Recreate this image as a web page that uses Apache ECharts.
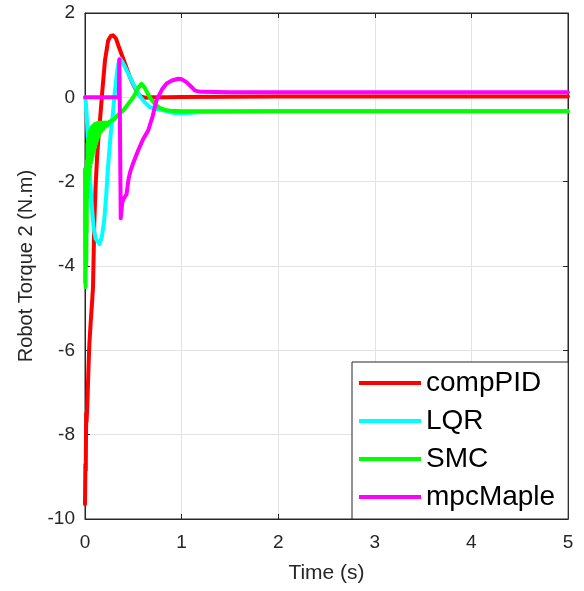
<!DOCTYPE html>
<html>
<head>
<meta charset="utf-8">
<script src="https://cdn.jsdelivr.net/npm/echarts@6/dist/echarts.min.js"></script>
<style>
html,body{margin:0;padding:0;background:#fff;}
#c{width:584px;height:591px;}
</style>
</head>
<body>
<div id="c"></div>
<script>
// ---- data ----
var seriesNames = ['compPID', 'LQR', 'SMC', 'mpcMaple'];
var xTicks = [0, 1, 2, 3, 4, 5];
var yTicks = [-10, -8, -6, -4, -2, 0, 2];

var tPID = [0, 0.004, 0.008, 0.012, 0.016, 0.024, 0.035, 0.045, 0.06, 0.072, 0.083, 0.096, 0.11, 0.125, 0.14, 0.155, 0.18, 0.207, 0.24, 0.265, 0.29, 0.32, 0.35, 0.39, 0.43, 0.465, 0.5, 0.54, 0.57, 0.62, 0.7, 0.85, 1.0, 2.0, 3.0, 4.0, 5.0];
var vPID = [-9.65, -8.7, -8.85, -7.5, -7.7, -7.3, -6.5, -5.85, -5.3, -4.9, -4.5, -3.0, -2.1, -1.42, -0.95, -0.55, 0.17, 0.88, 1.35, 1.45, 1.47, 1.4, 1.2, 0.95, 0.7, 0.48, 0.3, 0.12, 0.03, -0.01, 0.0, 0.0, 0.01, 0.02, 0.02, 0.02, 0.02];

var tLQR = [0, 0.008, 0.018, 0.03, 0.045, 0.06, 0.075, 0.09, 0.11, 0.15, 0.175, 0.2, 0.22, 0.24, 0.265, 0.29, 0.305, 0.32, 0.335, 0.35, 0.362, 0.38, 0.41, 0.44, 0.465, 0.5, 0.54, 0.57, 0.62, 0.67, 0.72, 0.81, 0.9, 0.95, 1.05, 1.2, 1.5, 2.0, 3.0, 4.0, 5.0];
var vLQR = [0, -0.1, -0.45, -1.0, -1.65, -2.2, -2.7, -3.1, -3.35, -3.48, -3.3, -2.9, -2.3, -1.6, -0.9, -0.35, 0.05, 0.35, 0.65, 0.85, 0.92, 0.86, 0.74, 0.6, 0.48, 0.32, 0.14, 0.02, -0.12, -0.23, -0.27, -0.31, -0.36, -0.38, -0.37, -0.35, -0.34, -0.33, -0.33, -0.33, -0.33];

var tSMC = [0, 0.002, 0.004, 0.006, 0.008, 0.010, 0.012, 0.014, 0.016, 0.018, 0.02, 0.023, 0.026, 0.029, 0.032, 0.035, 0.038, 0.041, 0.044, 0.047, 0.05, 0.054, 0.058, 0.062, 0.066, 0.07, 0.074, 0.078, 0.082, 0.086, 0.09, 0.095, 0.1, 0.105, 0.11, 0.115, 0.12, 0.125, 0.13, 0.135, 0.14, 0.145, 0.15, 0.155, 0.16, 0.17, 0.18, 0.19, 0.2, 0.21, 0.22, 0.235, 0.25, 0.265, 0.28, 0.31, 0.35, 0.4, 0.45, 0.5, 0.55, 0.585, 0.62, 0.67, 0.72, 0.77, 0.83, 0.88, 1.0, 2.0, 3.0, 4.0, 5.0];
var vSMC = [-1.7, -4.4, -2.0, -4.5, -1.8, -4.0, -2.2, -3.9, -1.9, -3.2, -1.5, -2.4, -1.1, -2.1, -1.0, -1.95, -0.95, -1.85, -0.85, -1.75, -0.8, -1.65, -0.75, -1.55, -0.72, -1.48, -0.7, -1.4, -0.68, -1.32, -0.66, -1.25, -0.64, -1.18, -0.63, -1.1, -0.62, -1.02, -0.61, -0.95, -0.6, -0.9, -0.6, -0.84, -0.6, -0.8, -0.6, -0.75, -0.6, -0.7, -0.6, -0.66, -0.58, -0.62, -0.55, -0.5, -0.4, -0.3, -0.15, 0.0, 0.22, 0.32, 0.22, 0.0, -0.15, -0.25, -0.3, -0.32, -0.33, -0.33, -0.33, -0.33, -0.33];

var tMPC = [0, 0.35, 0.356, 0.363, 0.37, 0.385, 0.4, 0.43, 0.45, 0.47, 0.5, 0.55, 0.6, 0.655, 0.7, 0.74, 0.8, 0.845, 0.9, 0.965, 1.0, 1.05, 1.1, 1.14, 1.2, 1.5, 2.0, 3.0, 4.0, 5.0];
var vMPC = [0, 0, 0.9, -1.0, -2.87, -2.5, -2.4, -2.3, -1.95, -1.75, -1.55, -1.26, -1.0, -0.78, -0.45, -0.07, 0.2, 0.33, 0.4, 0.44, 0.43, 0.36, 0.25, 0.16, 0.13, 0.12, 0.12, 0.12, 0.12, 0.12];

var colors = ['#ff0000', '#00ffff', '#00ff00', '#ff00ff'];

function pairs(t, v) { return t.map(function (x, i) { return [x, v[i]]; }); }
var allT = [tPID, tLQR, tSMC, tMPC];
var allV = [vPID, vLQR, vSMC, vMPC];

var FONT = 'Liberation Sans, Arial, Helvetica, sans-serif';
var AX = '#262626';

var chart = echarts.init(document.getElementById('c'), null, {renderer: 'canvas'});

var series = seriesNames.map(function (n, i) {
  return {
    name: n, type: 'line', data: pairs(allT[i], allV[i]),
    showSymbol: false, symbol: 'none', smooth: false,
    lineStyle: {color: colors[i], width: 4, join: 'round', cap: 'round'},
    itemStyle: {color: colors[i]},
    animation: false, clip: true
  };
});

chart.setOption({
  animation: false,
  backgroundColor: '#ffffff',
  grid: {left: 85, right: 16, top: 13, bottom: 72, show: true, borderColor: AX, borderWidth: 1, backgroundColor: '#fff'},
  legend: {
    data: seriesNames,
    orient: 'vertical',
    left: 352, top: 362,
    icon: 'rect', itemWidth: 62, itemHeight: 4, itemGap: 8,
    padding: [6, 13, 7, 7],
    borderColor: AX, borderWidth: 1, backgroundColor: '#ffffff',
    textStyle: {fontFamily: FONT, fontSize: 28, color: '#000', lineHeight: 30, padding: [0, 0, 0, 0]},
    selectedMode: false
  },
  xAxis: [{
    type: 'value', min: xTicks[0], max: xTicks[xTicks.length - 1], interval: 1,
    name: 'Time (s)', nameLocation: 'middle', nameGap: 44,
    nameTextStyle: {fontFamily: FONT, fontSize: 21, color: AX},
    axisLine: {show: true, onZero: false, lineStyle: {color: AX, width: 1}},
    axisTick: {show: true, inside: true, length: 5, lineStyle: {color: AX}},
    axisLabel: {fontFamily: FONT, fontSize: 19, color: AX, margin: 14},
    splitLine: {show: true, lineStyle: {color: '#e3e3e3', width: 1}}
  }, {
    type: 'value', position: 'top', min: 0, max: 5, interval: 1,
    axisLine: {show: true, onZero: false, lineStyle: {color: AX}},
    axisTick: {show: true, inside: true, length: 5, lineStyle: {color: AX}},
    axisLabel: {show: false}, splitLine: {show: false}
  }],
  yAxis: [{
    type: 'value', min: yTicks[0], max: yTicks[yTicks.length - 1], interval: 2,
    name: 'Robot Torque 2 (N.m)', nameLocation: 'middle', nameGap: 49, nameRotate: 90,
    nameTextStyle: {fontFamily: FONT, fontSize: 20, color: AX},
    axisLine: {show: true, onZero: false, lineStyle: {color: AX, width: 1}},
    axisTick: {show: true, inside: true, length: 5, lineStyle: {color: AX}},
    axisLabel: {fontFamily: FONT, fontSize: 19, color: AX, margin: 10},
    splitLine: {show: true, lineStyle: {color: '#e3e3e3', width: 1}}
  }, {
    type: 'value', position: 'right', min: -10, max: 2, interval: 2,
    axisLine: {show: true, onZero: false, lineStyle: {color: AX}},
    axisTick: {show: true, inside: true, length: 5, lineStyle: {color: AX}},
    axisLabel: {show: false}, splitLine: {show: false}
  }],
  series: series
});
</script>
</body>
</html>
